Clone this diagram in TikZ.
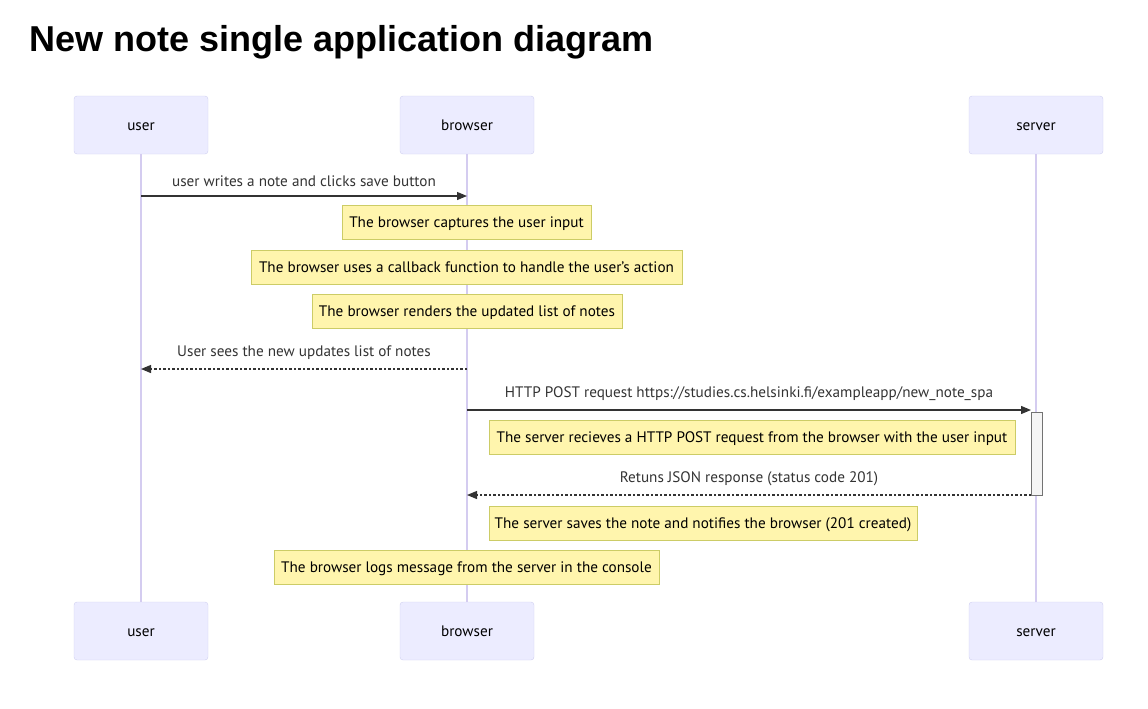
\documentclass[tikz,border=0pt]{standalone}
\usepackage{fontspec}
\setmainfont{PT Sans}
\newfontfamily\titlefont{Liberation Sans}
\usetikzlibrary{arrows.meta}
\definecolor{actfill}{HTML}{ECECFF}
\definecolor{actdraw}{HTML}{CFCFF0}
\definecolor{lifeline}{HTML}{D4CCF0}
\definecolor{notefill}{HTML}{FFF5AD}
\definecolor{notedraw}{HTML}{CCCC66}
\definecolor{msgline}{HTML}{333333}
\begin{document}
\begin{tikzpicture}[x=1pt,y=-1pt,
  actor/.style={draw=actdraw,fill=actfill,rounded corners=3pt,minimum width=134pt,minimum height=58pt,inner sep=0pt,text height=12.5pt,text depth=1.5pt,font=\fontsize{15.2}{17}\selectfont},
  notebox/.style={draw=notedraw,fill=notefill,minimum height=34pt,inner sep=0pt,text height=12.5pt,text depth=1.5pt,font=\fontsize{15.2}{17}\selectfont},
  msg/.style={draw=msgline,line width=1.2pt,-{Triangle[length=10pt,width=8pt]}},
  dmsg/.style={msg,dash pattern=on 2.5pt off 2pt},
  lbl/.style={font=\fontsize{15.2}{17}\selectfont,text=msgline,inner sep=0pt},
  life/.style={draw=lifeline,line width=1.2pt}]
\useasboundingbox (0,0) rectangle (1148,709);
\node[font=\titlefont\bfseries\fontsize{36}{40}\selectfont,anchor=base west,inner sep=0pt] (title) at (29,52) {New note single application diagram};
% actors
\node[actor] (ut) at (141,125) {user};
\node[actor] (bt) at (467,125) {browser};
\node[actor] (st) at (1036,125) {server};
\node[actor] (ub) at (141,631) {user};
\node[actor] (bb) at (467,631) {browser};
\node[actor] (sb) at (1036,631) {server};
% lifelines
\draw[life] (ut.south) -- (ub.north);
\draw[life] (bt.south) -- (bb.north);
\draw[life] (st.south) -- (sb.north);
% activation
\node[draw=black!55,fill=black!4,minimum width=11pt,minimum height=83pt,inner sep=0pt] (act) at (1036.5,453.5) {};
% message 1
\coordinate (m1a) at (141,196);
\coordinate (m1b) at (467,196);
\draw[msg] (m1a) -- (m1b) node[lbl,midway,above=9pt] (l1) {user writes a note and clicks save button};
% notes
\node[notebox,minimum width=249pt] (n1) at (466.5,222) {The browser captures the user input};
\node[notebox,minimum width=431pt] (n2) at (466.5,267) {The browser uses a callback function to handle the user's action};
\node[notebox,minimum width=310pt] (n3) at (467,311) {The browser renders the updated list of notes};
% message 2
\coordinate (m2a) at (467,369);
\coordinate (m2b) at (141,369);
\draw[dmsg] (m2a) -- (m2b) node[lbl,midway,above=9pt] (l2) {User sees the new updates list of notes};
% message 3
\coordinate (m3a) at (467,410);
\coordinate (m3b) at (1031,410);
\draw[msg] (m3a) -- (m3b) node[lbl,midway,above=9pt] (l3) {HTTP POST request https://studies.cs.helsinki.fi/exampleapp/new\_note\_spa};
\node[notebox,minimum width=526pt] (n4) at (752,437) {The server recieves a HTTP POST request from the browser with the user input};
% message 4
\coordinate (m4a) at (1031,495);
\coordinate (m4b) at (467,495);
\draw[dmsg] (m4a) -- (m4b) node[lbl,midway,above=9pt] (l4) {Retuns JSON response (status code 201)};
\node[notebox,minimum width=428pt] (n5) at (703,523) {The server saves the note and notifies the browser (201 created)};
\node[notebox,minimum width=385pt] (n6) at (466.5,567) {The browser logs message from the server in the console};
\end{tikzpicture}
\end{document}
